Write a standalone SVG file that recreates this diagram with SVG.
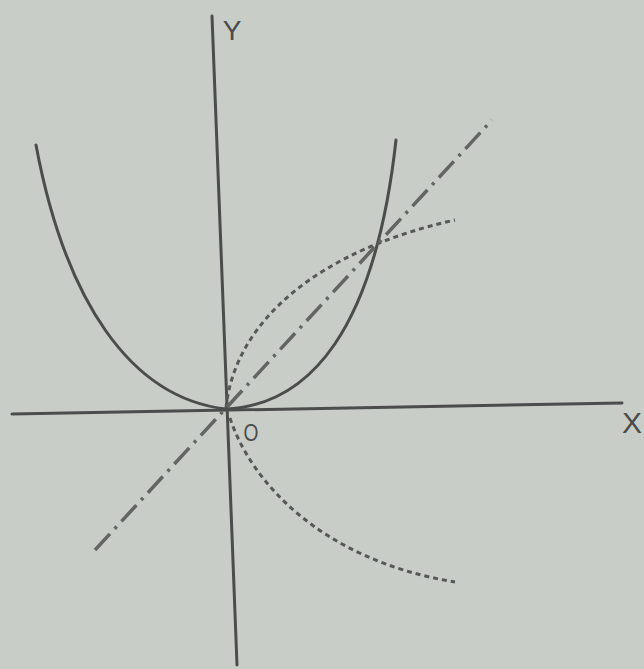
<svg xmlns="http://www.w3.org/2000/svg" width="644" height="669" viewBox="0 0 644 669">
<style>
.ax{stroke:#4a4d4b;stroke-width:3;fill:none;stroke-linecap:round}
.solid{stroke:#4a4d4b;stroke-width:3;fill:none;stroke-linecap:round}
.dot{stroke:#555856;stroke-width:3;fill:none;stroke-dasharray:5 4}
.dd{stroke:#626563;stroke-width:3.5;fill:none;stroke-dasharray:22 7 3 7}
.lbl{font-family:"Liberation Sans",Arial,sans-serif;fill:#4a4d4b}
</style>
<rect width="644" height="669" fill="#c9cdc7"/>
<g id="axes">
<line class="ax" x1="12" y1="414" x2="622" y2="403"/>
<line class="ax" x1="212" y1="16" x2="237" y2="665"/>
</g>
<g id="curves">
<path id="parabola" class="solid" d="M36,145 C65,300 130,398 226,409 C310,405 375,330 396,140"/>
<path id="inverse-upper" class="dot" d="M226,408 C235,320 320,250 455,220"/>
<path id="inverse-lower" class="dot" d="M230,418 C250,480 320,560 455,582"/>
<path id="line-yx" class="dd" d="M95,550 L492,120"/>
</g>
<g id="labels">
<text class="lbl" x="232" y="40" font-size="28" text-anchor="middle">Y</text>
<text class="lbl" x="632" y="433" font-size="30" text-anchor="middle">X</text>
<text class="lbl" x="251" y="441" font-size="24" text-anchor="middle" transform="translate(251 0) scale(0.8 1) translate(-251 0)">O</text>
</g>
</svg>
